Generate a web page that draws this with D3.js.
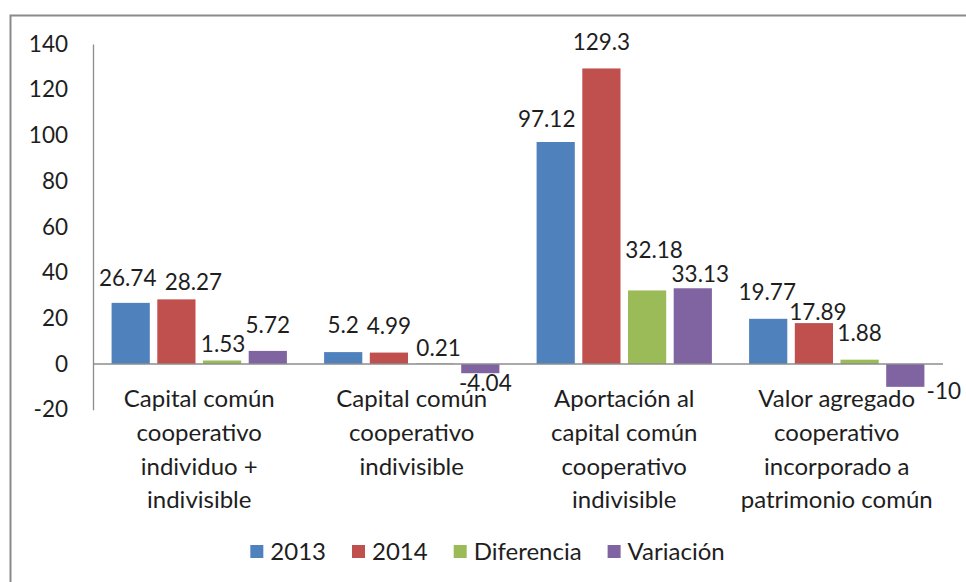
<!DOCTYPE html>
<html>
<head>
<meta charset="utf-8">
<script src="https://cdn.jsdelivr.net/npm/d3@7"></script>
<style>
  html, body { margin: 0; padding: 0; background: #ffffff; }
  svg { display: block; }
  text { font-family: Lato, "Open Sans", sans-serif; fill: #1e1e1e; }
</style>
</head>
<body>
<svg id="chart" width="966" height="582"></svg>
<script>
// Category labels, already broken into lines
const categoryLines = [
  ["Capital común", "cooperativo", "individuo +", "indivisible"],
  ["Capital común", "cooperativo", "indivisible"],
  ["Aportación al", "capital común", "cooperativo", "indivisible"],
  ["Valor agregado", "cooperativo", "incorporado a", "patrimonio común"]
];
const categories = categoryLines.map(l => l.join(" "));

const seriesNames = ["2013", "2014", "Diferencia", "Variación"];
const values2013 = [26.74, 5.2, 97.12, 19.77];
const values2014 = [28.27, 4.99, 129.3, 17.89];
const valuesDiferencia = [1.53, 0.21, 32.18, 1.88];
const valuesVariacion = [5.72, -4.04, 33.13, -10];
const seriesValues = [values2013, values2014, valuesDiferencia, valuesVariacion];

const yTicks = [-20, 0, 20, 40, 60, 80, 100, 120, 140];

// Styling
const colors = ["#4F81BD", "#C0504D", "#9BBB59", "#8064A2"];
const numberSize = 22.5;   // tick and value labels
const wordSize = 24;       // category and legend text

// Hand-placed label offsets [dx, dy] per series (rows) and category (columns)
const labelNudge = [
  [[-3, -9], [0, -11], [-9, -7], [-1, -11]],
  [[17, -1], [0, -11], [0, -10], [4, 5]],
  [[1, 0], [4, 0], [7, -24], [0, -11]],
  [[0, -10], [5, -4], [7.5, 2], [38.5, -10]]
];

const svg = d3.select("#chart");

// Chart frame
svg.append("rect")
  .attr("x", 10.5).attr("y", 15.5)
  .attr("width", 1000).attr("height", 1000)
  .attr("fill", "none")
  .attr("stroke", "#8a8a8a")
  .attr("stroke-width", 2);

const plot = { left: 93, right: 943, top: 44, bottom: 409.7 };

const y = d3.scaleLinear().domain([-20, 140]).range([plot.bottom, plot.top]);
const x0 = d3.scaleBand().domain(categories)
  .range([plot.left, plot.right])
  .paddingInner(0.175).paddingOuter(0.0875);
const x1 = d3.scaleBand().domain(seriesNames)
  .range([0, x0.bandwidth()])
  .paddingInner(0.164).paddingOuter(0);

// Y axis (plain hyphen for negatives)
const yAxis = d3.axisLeft(y).tickValues(yTicks).tickSize(0).tickPadding(25)
  .tickFormat(d => String(d));
const gy = svg.append("g").attr("transform", `translate(${plot.left},0)`).call(yAxis);
gy.select(".domain").attr("stroke", "#8c8c8c").attr("stroke-width", 1.3);
gy.selectAll("text")
  .attr("font-size", numberSize)
  .style("font-family", "Lato, sans-serif")
  .attr("fill", "#1e1e1e");

// Bars
const flat = [];
seriesNames.forEach((s, si) => {
  categories.forEach((c, ci) => {
    flat.push({ s, si, c, ci, v: seriesValues[si][ci] });
  });
});

svg.append("g").selectAll("rect")
  .data(flat)
  .join("rect")
  .attr("x", d => x0(d.c) + x1(d.s))
  .attr("width", x1.bandwidth())
  .attr("y", d => y(Math.max(0, d.v)))
  .attr("height", d => Math.abs(y(d.v) - y(0)))
  .attr("fill", d => colors[d.si]);

// Zero line
svg.append("line")
  .attr("x1", plot.left).attr("x2", plot.right)
  .attr("y1", y(0)).attr("y2", y(0))
  .attr("stroke", "#8c8c8c").attr("stroke-width", 1.3);

// Value labels
svg.append("g").selectAll("text")
  .data(flat)
  .join("text")
  .attr("text-anchor", "middle")
  .attr("font-size", numberSize)
  .attr("x", d => x0(d.c) + x1(d.s) + x1.bandwidth() / 2 + labelNudge[d.si][d.ci][0])
  .attr("y", d => (d.v >= 0 ? y(d.v) - 8 : y(d.v) + 22) + labelNudge[d.si][d.ci][1])
  .text(d => String(d.v));

// Category labels
const lineGap = 33.8;
const cat = svg.append("g").selectAll("text")
  .data(categoryLines)
  .join("text")
  .attr("text-anchor", "middle")
  .attr("font-size", wordSize)
  .attr("x", (d, i) => x0(categories[i]) + x0.bandwidth() / 2)
  .attr("y", y(0) + 43);
cat.selectAll("tspan")
  .data(d => d)
  .join("tspan")
  .attr("x", function () { return this.parentNode.getAttribute("x"); })
  .attr("dy", (d, i) => i === 0 ? 0 : lineGap)
  .text(d => d);

// Legend
const legend = svg.append("g");
const sq = 13, sqGap = 7, itemGap = 26;
const items = legend.selectAll("g")
  .data(seriesNames)
  .join("g");
items.append("rect")
  .attr("width", sq).attr("height", sq)
  .attr("y", -sq / 2)
  .attr("fill", (d, i) => colors[i]);
items.append("text")
  .attr("x", sq + sqGap)
  .attr("dy", "0.36em")
  .attr("font-size", wordSize)
  .text(d => d);
let cursor = 0;
const offsets = [];
items.each(function () {
  offsets.push(cursor);
  const w = d3.select(this).select("text").node().getComputedTextLength();
  cursor += sq + sqGap + w + itemGap;
});
const totalW = cursor - itemGap;
const legendCenter = 487.5, legendY = 551.5;
items.attr("transform", (d, i) => `translate(${legendCenter - totalW / 2 + offsets[i]},${legendY})`);
</script>
</body>
</html>
